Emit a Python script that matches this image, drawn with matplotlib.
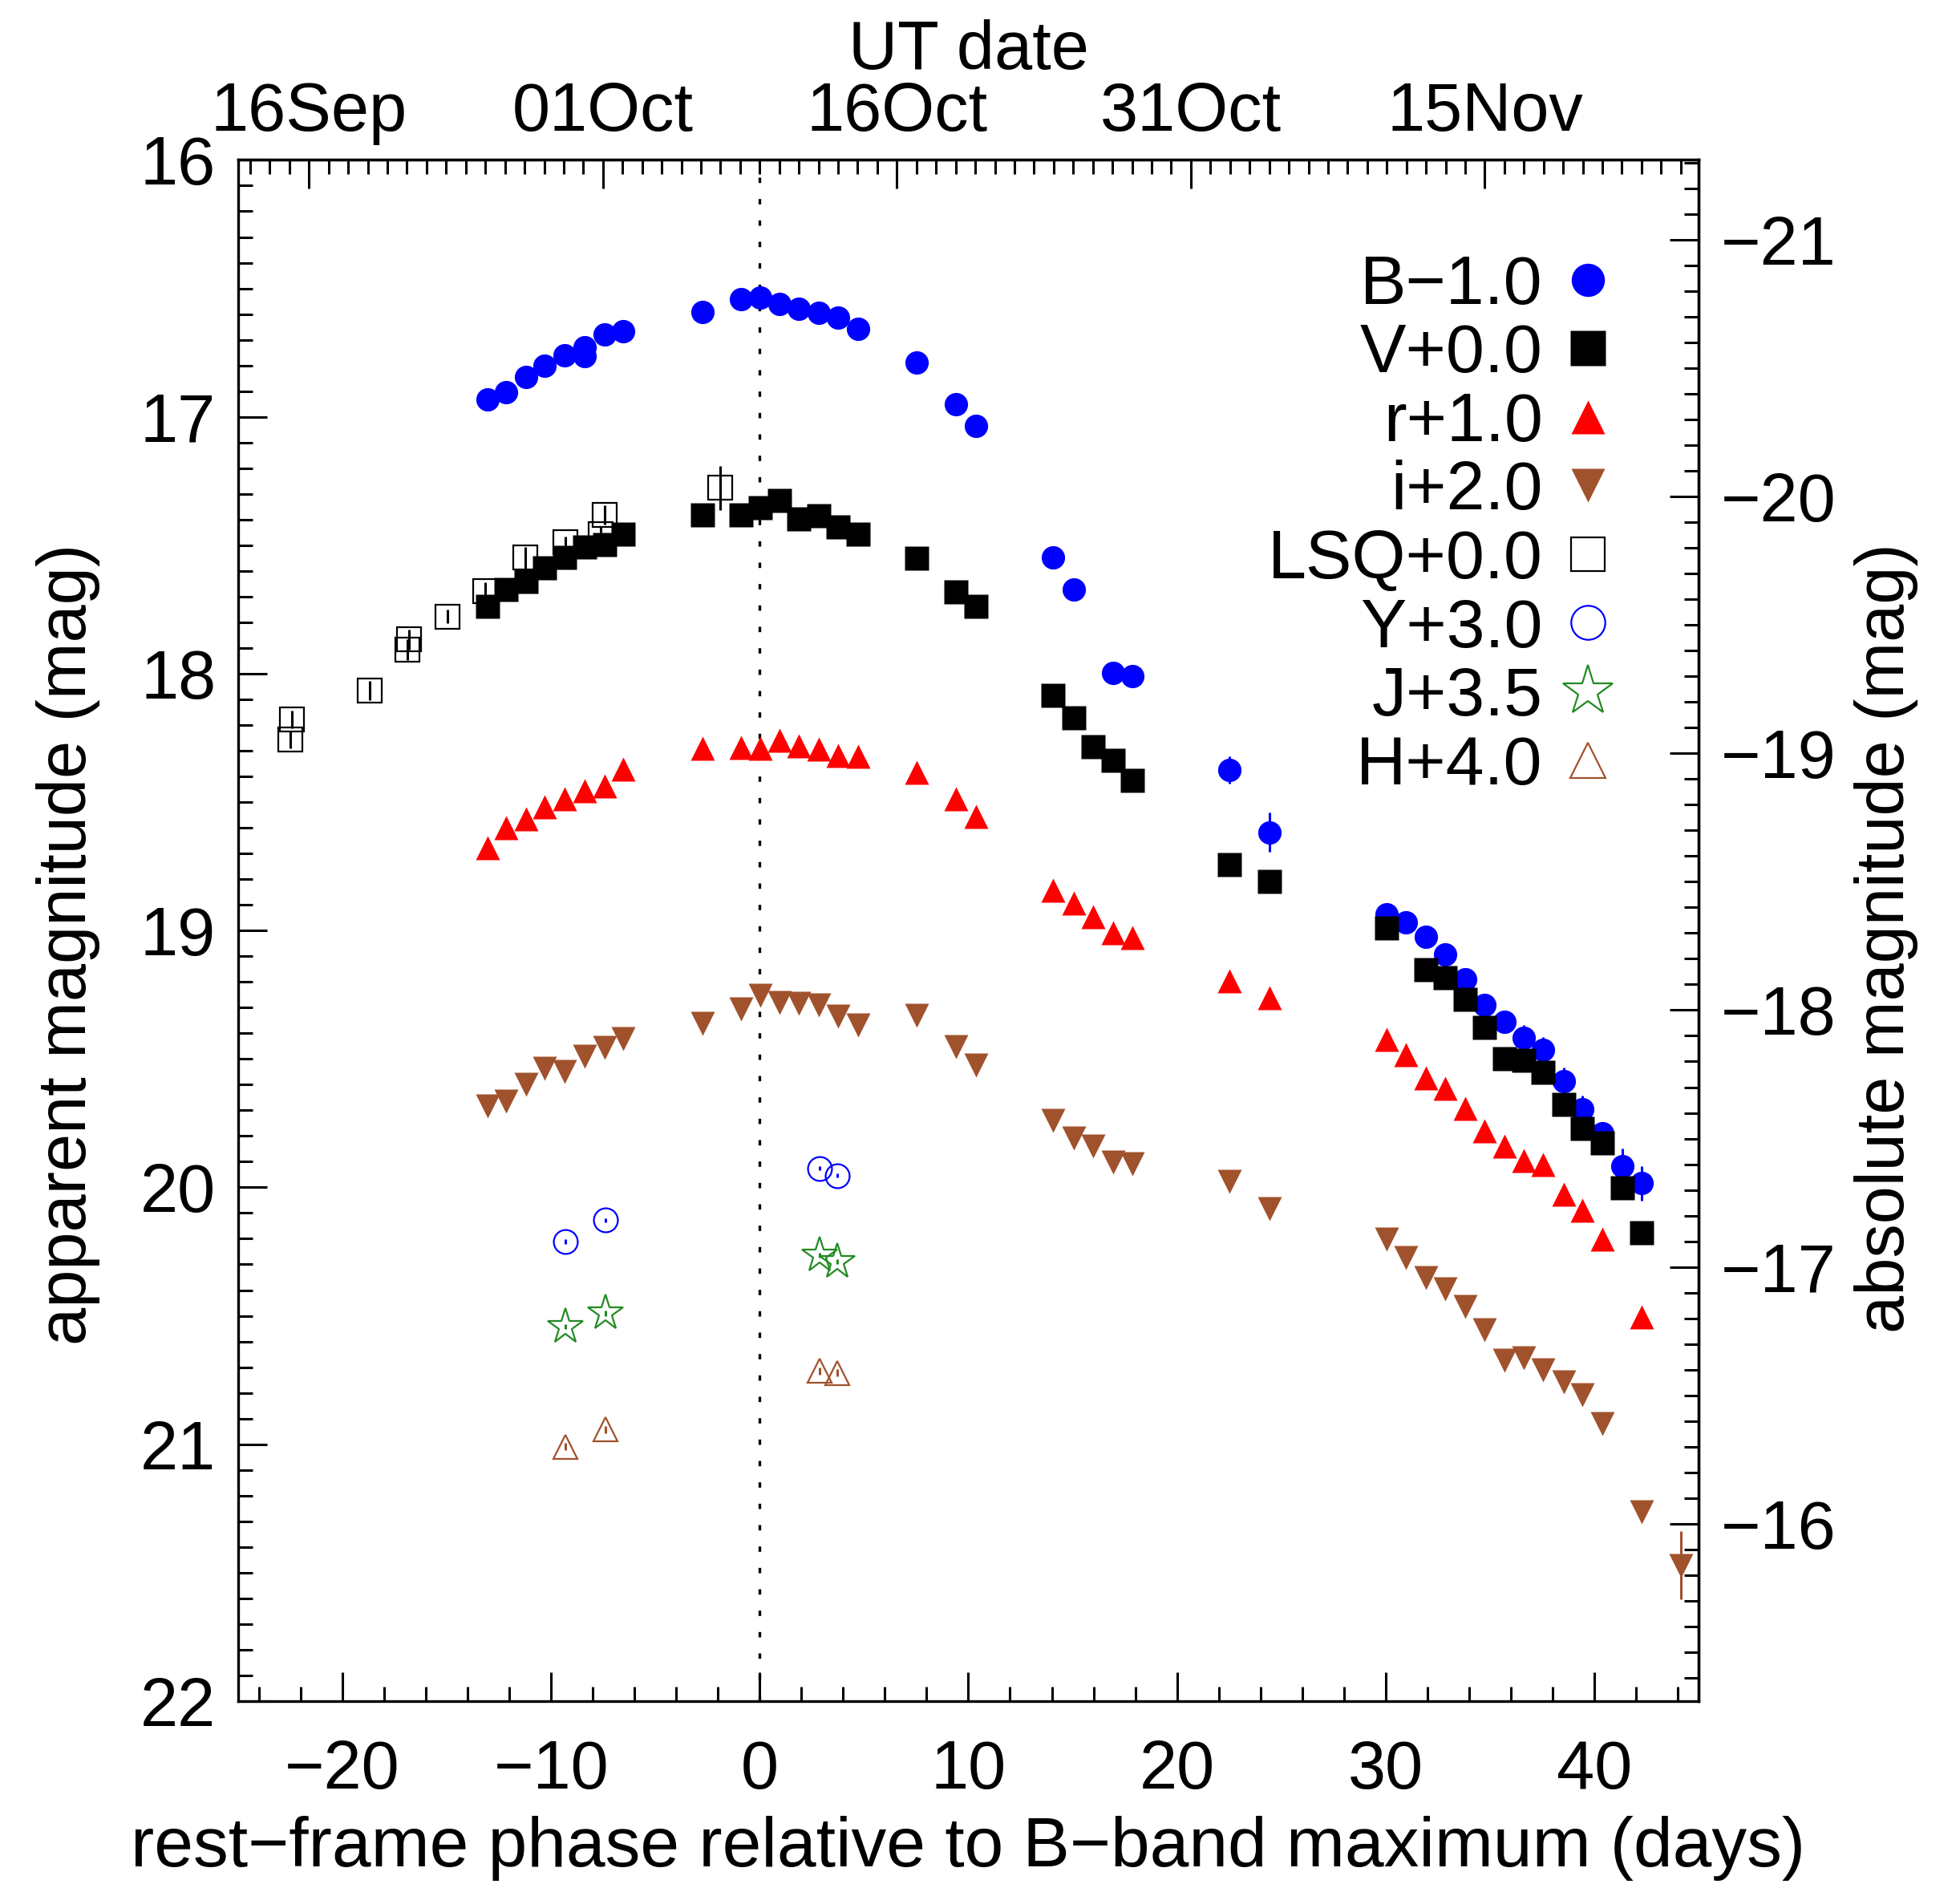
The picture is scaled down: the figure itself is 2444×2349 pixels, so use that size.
import matplotlib
matplotlib.use("Agg")
import matplotlib.pyplot as plt
from matplotlib.ticker import MultipleLocator, FixedLocator, FixedFormatter

plt.rcParams['font.family'] = ['Liberation Sans', 'DejaVu Sans']

# rest-frame phase (days) and apparent magnitudes (offsets already applied)
b_phase = [-13.04, -12.16, -11.20, -10.30, -9.37, -8.41, -8.41, -7.44, -6.53,
           -2.76, -0.90, 0.04, 0.96, 1.89, 2.82, 3.76, 4.72,
           7.54, 9.42, 10.37, 14.07, 15.05, 16.94, 17.87, 22.52, 24.42,
           30.03, 30.98, 31.92, 32.86, 33.80, 34.74, 35.68, 36.63, 37.56,
           38.55, 39.44, 40.39, 41.35, 42.29]
b_mag = [16.932, 16.904, 16.844, 16.801, 16.761, 16.730, 16.765, 16.680, 16.666,
         16.593, 16.542, 16.537, 16.561, 16.579, 16.596, 16.615, 16.657,
         16.788, 16.950, 17.035, 17.547, 17.673, 17.998, 18.009, 18.374, 18.618,
         18.937, 18.969, 19.023, 19.092, 19.189, 19.291, 19.355, 19.418, 19.465,
         19.587, 19.697, 19.791, 19.918, 19.984]
b_err = [0.015] * 24 + [0.053, 0.077] + [0.03] * 7 + \
        [0.05, 0.05, 0.054, 0.055, 0.045, 0.068, 0.068]

v_phase = [-13.04, -12.16, -11.20, -10.30, -9.37, -8.41, -7.44, -6.53,
           -2.76, -0.90, 0.04, 0.96, 1.89, 2.82, 3.76, 4.72,
           7.54, 9.42, 10.37, 14.07, 15.05, 15.98, 16.94, 17.87, 22.52, 24.42,
           30.03, 31.92, 32.86, 33.80, 34.74, 35.68, 36.63, 37.56, 38.55,
           39.44, 40.39, 41.35, 42.29]
v_mag = [17.737, 17.671, 17.642, 17.588, 17.547, 17.507, 17.497, 17.458,
         17.381, 17.381, 17.353, 17.325, 17.398, 17.385, 17.430, 17.458,
         17.551, 17.682, 17.738, 18.085, 18.173, 18.285, 18.336, 18.415, 18.744, 18.808,
         18.991, 19.154, 19.183, 19.267, 19.378, 19.498, 19.504, 19.552, 19.677,
         19.770, 19.827, 20.002, 20.177]

r_phase = [-13.04, -12.16, -11.20, -10.30, -9.37, -8.41, -7.44, -6.53,
           -2.76, -0.90, 0.04, 0.96, 1.89, 2.82, 3.76, 4.72,
           7.54, 9.42, 10.37, 14.07, 15.05, 15.98, 16.94, 17.87, 22.52, 24.42,
           30.03, 30.98, 31.92, 32.86, 33.80, 34.74, 35.68, 36.63, 37.56,
           38.55, 39.44, 40.39, 42.29]
r_mag = [18.678, 18.599, 18.565, 18.519, 18.488, 18.456, 18.437, 18.372,
         18.291, 18.286, 18.291, 18.258, 18.280, 18.293, 18.318, 18.323,
         18.384, 18.488, 18.556, 18.843, 18.892, 18.945, 19.010, 19.028, 19.197, 19.262,
         19.423, 19.485, 19.573, 19.616, 19.693, 19.779, 19.841, 19.896, 19.911,
         20.028, 20.088, 20.201, 20.504]

i_phase = [-13.04, -12.16, -11.20, -10.30, -9.37, -8.41, -7.44, -6.53,
           -2.76, -0.90, 0.04, 0.96, 1.89, 2.82, 3.76, 4.72,
           7.54, 9.42, 10.37, 14.07, 15.05, 15.98, 16.94, 17.87, 22.52, 24.42,
           30.03, 30.98, 31.92, 32.86, 33.80, 34.74, 35.68, 36.63, 37.56,
           38.55, 39.44, 40.39, 42.29, 44.15]
i_mag = [19.684, 19.665, 19.598, 19.538, 19.550, 19.489, 19.454, 19.420,
         19.363, 19.307, 19.253, 19.281, 19.285, 19.291, 19.334, 19.368,
         19.332, 19.452, 19.525, 19.739, 19.809, 19.839, 19.902, 19.909, 19.978, 20.083,
         20.201, 20.273, 20.353, 20.396, 20.463, 20.553, 20.673, 20.665, 20.710,
         20.758, 20.807, 20.919, 21.263, 21.471]
i_err = [0.015] * 39 + [0.134]

lsq_phase = [-22.44, -22.51, -18.69, -16.81, -16.89, -14.95, -13.14, -11.22,
             -9.32, -7.61, -7.42, -1.88]
lsq_mag = [18.178, 18.257, 18.065, 17.867, 17.906, 17.777, 17.680, 17.548,
           17.487, 17.458, 17.381, 17.277]
lsq_err = [0.035, 0.035, 0.038, 0.04, 0.04, 0.027, 0.035, 0.042,
           0.022, 0.03, 0.038, 0.087]

nir_phase = [-9.30, -7.38, 2.87, 3.73]
y_mag = [20.211, 20.128, 19.926, 19.954]
y_err = [0.008, 0.008, 0.008, 0.008]
j_mag = [20.542, 20.490, 20.264, 20.290]
j_err = [0.01, 0.01, 0.01, 0.01]
h_mag = [21.009, 20.943, 20.715, 20.722]
h_err = [0.015, 0.015, 0.015, 0.015]

labels = ['B\u22121.0', 'V+0.0', 'r+1.0', 'i+2.0', 'LSQ+0.0', 'Y+3.0', 'J+3.5', 'H+4.0']

# top axis: UT date, counted in days after 16 Sep
z = 0.0646
tmax_after_16sep = 23.0
date_ticks = [0, 15, 30, 45, 60]
date_labels = ['16Sep', '01Oct', '16Oct', '31Oct', '15Nov']

# distance modulus for the absolute magnitude axis
mu = 37.31

brown = '#A0522D'
green = '#228B22'
fs = 61

fig = plt.figure(figsize=(24.44, 23.49), dpi=100)
ax = fig.add_axes([0.1215, 0.0971, 0.7451, 0.8180])

ax.axvline(0, color='k', lw=2.4, ls=(0, (2, 6)), zorder=1)

ebkw = dict(fmt='none', elinewidth=2.2, capsize=0, zorder=2)
ax.errorbar(lsq_phase, lsq_mag, yerr=lsq_err, ecolor='k', **ebkw)
ax.errorbar(b_phase, b_mag, yerr=b_err, ecolor='blue', **ebkw)
ax.errorbar(i_phase, i_mag, yerr=i_err, ecolor=brown, **ebkw)
ax.errorbar(nir_phase, y_mag, yerr=y_err, ecolor='blue', **ebkw)
ax.errorbar(nir_phase, j_mag, yerr=j_err, ecolor=green, **ebkw)
ax.errorbar(nir_phase, h_mag, yerr=h_err, ecolor=brown, **ebkw)

h_lsq, = ax.plot(lsq_phase, lsq_mag, 's', ms=21.5, mfc='none', mec='k', mew=1.6,
                 label=labels[4], zorder=3)
h_b, = ax.plot(b_phase, b_mag, 'o', ms=21, color='blue', mec='none',
               label=labels[0], zorder=3)
h_v, = ax.plot(v_phase, v_mag, 's', ms=22, color='k', mec='none',
               label=labels[1], zorder=4)
h_r, = ax.plot(r_phase, r_mag, '^', ms=21, color='red', mec='none',
               label=labels[2], zorder=4)
h_i, = ax.plot(i_phase, i_mag, 'v', ms=21, color=brown, mec='none',
               label=labels[3], zorder=4)
h_y, = ax.plot(nir_phase, y_mag, 'o', ms=21.5, mfc='none', mec='blue', mew=1.6,
               label=labels[5], zorder=4)
h_j, = ax.plot(nir_phase, j_mag, '*', ms=33, mfc='none', mec=green, mew=1.6,
               label=labels[6], zorder=4)
h_h, = ax.plot(nir_phase, h_mag, '^', ms=22, mfc='none', mec=brown, mew=1.6,
               label=labels[7], zorder=4)

ax.set_xlim(-25, 45)
ax.set_ylim(22, 16)
ax.xaxis.set_major_locator(MultipleLocator(10))
ax.xaxis.set_minor_locator(MultipleLocator(2))
ax.yaxis.set_major_locator(MultipleLocator(1))
ax.yaxis.set_minor_locator(MultipleLocator(0.1))
ax.tick_params(which='both', direction='in', top=False, right=False, width=2.2)
ax.tick_params(which='major', length=26, labelsize=fs)
ax.tick_params(which='minor', length=13)
ax.tick_params(axis='x', pad=34)
ax.tick_params(axis='y', pad=20)
for sp in ax.spines.values():
    sp.set_linewidth(2.4)

ax.set_xlabel('rest\u2212frame phase relative to B\u2212band maximum (days)', fontsize=63)
ax.set_ylabel('apparent magnitude (mag)', fontsize=fs)
ax.xaxis.set_label_coords(0.5, -0.0745)
ax.yaxis.set_label_coords(-0.0945, 0.491)


def phase_to_date(p):
    return tmax_after_16sep + p * (1 + z)


def date_to_phase(d):
    return (d - tmax_after_16sep) / (1 + z)


secx = ax.secondary_xaxis('top', functions=(phase_to_date, date_to_phase))
secx.xaxis.set_major_locator(FixedLocator(date_ticks))
secx.xaxis.set_major_formatter(FixedFormatter(date_labels))
secx.xaxis.set_minor_locator(MultipleLocator(1))
secx.tick_params(which='both', direction='in', width=2.2)
secx.tick_params(which='major', length=26, labelsize=fs, pad=13)
secx.tick_params(which='minor', length=13)
secx.spines['top'].set_linewidth(2.4)
secx.set_xlabel('UT date', fontsize=fs)
secx.xaxis.set_label_coords(0.5, 1.059, transform=ax.transAxes)

secy = ax.secondary_yaxis('right', functions=(lambda m: m - mu, lambda a: a + mu))
secy.yaxis.set_major_locator(MultipleLocator(1))
secy.yaxis.set_minor_locator(MultipleLocator(0.1))
secy.tick_params(which='both', direction='in', width=2.2)
secy.tick_params(which='major', length=26, labelsize=fs, pad=20)
secy.tick_params(which='minor', length=13)
secy.spines['right'].set_linewidth(2.4)
secy.set_ylabel('absolute magnitude (mag)', fontsize=fs)
secy.yaxis.set_label_coords(1.1066, 0.495, transform=ax.transAxes)

ax.legend(handles=[h_b, h_v, h_r, h_i, h_lsq, h_y, h_j, h_h],
          loc='upper right', bbox_to_anchor=(0.943, 0.939), frameon=False,
          markerfirst=False, fontsize=62, markerscale=1.42, handlelength=0.8,
          handletextpad=0.25, labelspacing=0.065, borderpad=0, borderaxespad=0,
          numpoints=1)

fig.savefig('out.png', dpi=100)
